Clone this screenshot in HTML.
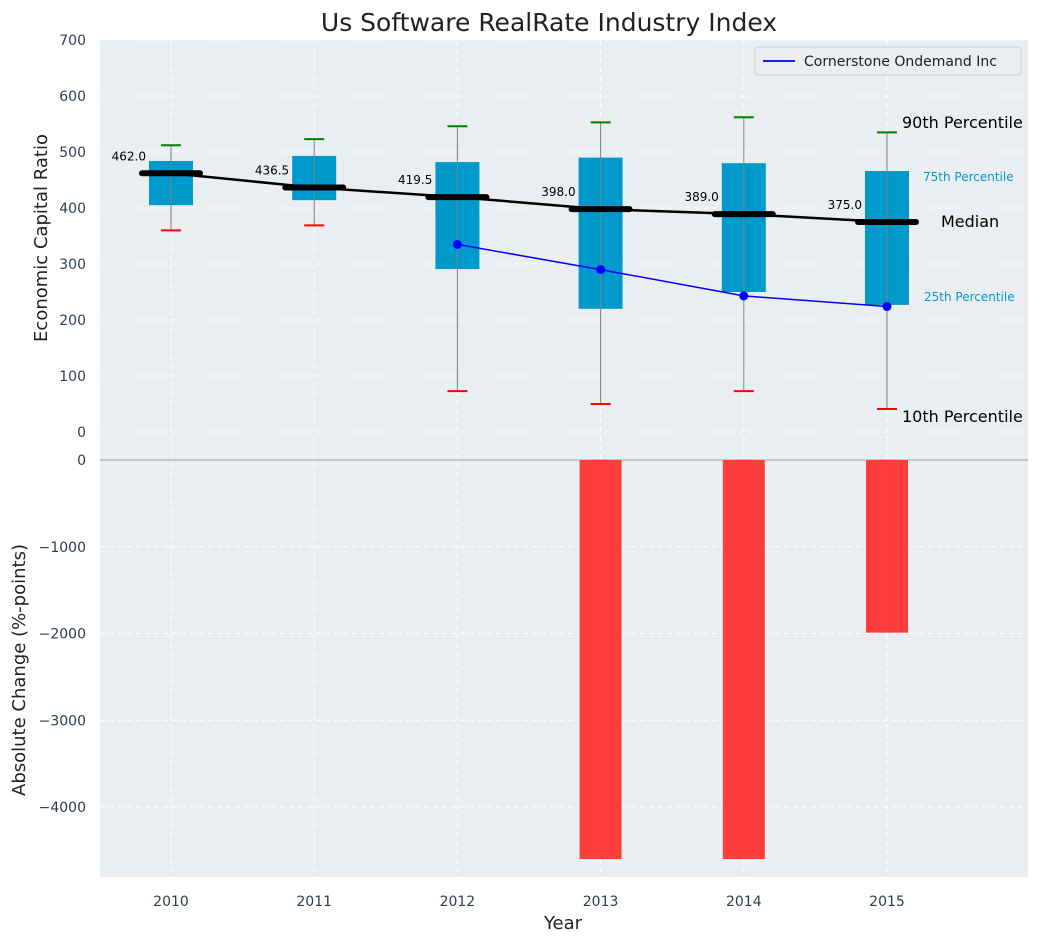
<!DOCTYPE html>
<html><head><meta charset="utf-8"><style>
body{margin:0;background:#fff;font-family:"Liberation Sans","DejaVu Sans",sans-serif;}
svg text{font-family:"DejaVu Sans","Liberation Sans",sans-serif;}
</style></head><body>
<svg id="c" width="1039" height="942" xmlns="http://www.w3.org/2000/svg"></svg>
<script>
const years=[2010,2011,2012,2013,2014,2015];
const q1=[405,414,291,220,250,227];
const q3=[484,493,482,490,480,466];
const med=[462,436.5,419.5,398,389,375];
const p10=[360,369,73,50,73,41];
const p90=[512,523,546,553,562,535];
const compYears=[2012,2013,2014,2015];
const compVals=[335,290,243,224];
const chgYears=[2013,2014,2015];
const chgVals=[-4600,-4600,-1990];
const topTicks=[0,100,200,300,400,500,600,700];
const botTicks=[0,-1000,-2000,-3000,-4000];

const NS="http://www.w3.org/2000/svg";
const svg=document.getElementById('c');
function el(t,a,txt){const e=document.createElementNS(NS,t);for(const k in a)e.setAttribute(k,a[k]);if(txt!==undefined)e.textContent=txt;svg.appendChild(e);return e;}
const X=v=>171+(v-2010)*143.2;
const Y1=v=>432-v*0.56;
const Yb=v=>460-v*0.08675;
const L=100,R=1028;

let e;
e=el('rect',{x:L,y:40,width:R-L,height:406,fill:'#eaeef0'});

e=el('rect',{x:L,y:446,width:R-L,height:431,fill:'#eaeef0'});

topTicks.forEach(t=>{el('line',{x1:L,x2:R,y1:Y1(t),y2:Y1(t),stroke:'#fff','stroke-dasharray':'5,4','stroke-width':1});
 e=el('text',{x:86,y:Y1(t)+5,'text-anchor':'end','font-size':14,fill:'#2b3e50'},t);
 });
botTicks.forEach(t=>{el('line',{x1:L,x2:R,y1:Yb(t),y2:Yb(t),stroke:'#fff','stroke-dasharray':'5,4','stroke-width':1});
 e=el('text',{x:86,y:Yb(t)+5,'text-anchor':'end','font-size':14,fill:'#2b3e50'},t===0?'0':'\u2212'+(-t));
 });
years.forEach(y=>{el('line',{x1:X(y),x2:X(y),y1:40,y2:877,stroke:'#fff','stroke-dasharray':'5,4','stroke-width':1});
 e=el('text',{x:X(y),y:906,'text-anchor':'middle','font-size':14,fill:'#2b3e50'},y);
 });
el('line',{x1:L,x2:R,y1:460,y2:460,stroke:'#b0b0b0','stroke-width':1.2});
chgYears.forEach((y,i)=>{e=el('rect',{x:X(y)-21,y:Yb(0),width:42,height:Yb(chgVals[i])-Yb(0),fill:'#ff3d3d'});
 });
years.forEach((y,i)=>{const x=X(y);
 e=el('rect',{x:x-22,y:Y1(q3[i]),width:44,height:Y1(q1[i])-Y1(q3[i]),fill:'#0099cc'});
 
 el('line',{x1:x,x2:x,y1:Y1(p90[i]),y2:Y1(p10[i]),stroke:'#808080','stroke-width':1});
 el('line',{x1:x-10,x2:x+10,y1:Y1(p90[i]),y2:Y1(p90[i]),stroke:'green','stroke-width':2});
 el('line',{x1:x-10,x2:x+10,y1:Y1(p10[i]),y2:Y1(p10[i]),stroke:'red','stroke-width':2});
});
e=el('polyline',{points:years.map((y,i)=>X(y)+','+Y1(med[i])).join(' '),fill:'none',stroke:'#000','stroke-width':2.5});

years.forEach((y,i)=>{const x=X(y);
 el('line',{x1:x-29,x2:x+29,y1:Y1(med[i]),y2:Y1(med[i]),stroke:'#000','stroke-width':6,'stroke-linecap':'round'});
 e=el('text',{x:x-25,y:Y1(med[i])-13,'text-anchor':'end','font-size':12,fill:'#000'},med[i].toFixed(1));
 });
e=el('polyline',{points:compYears.map((y,i)=>X(y)+','+Y1(compVals[i])).join(' '),fill:'none',stroke:'#0000ff','stroke-width':1.5});

compYears.forEach((y,i)=>el('circle',{cx:X(y),cy:Y1(compVals[i]),r:4.5,fill:'#0000ff'}));
const ann=[['90th Percentile',902,128,16,'#000'],['75th Percentile',923,181,12,'#0099cc'],['Median',941,227,16,'#000'],['25th Percentile',924,301,12,'#0099cc'],['10th Percentile',902,422,16,'#000']];
ann.forEach(a=>{e=el('text',{x:a[1],y:a[2],'font-size':a[3],fill:a[4]},a[0]);});
e=el('rect',{x:755,y:47,width:266,height:28,fill:'#eaeef0',stroke:'#ccc',rx:3});

el('line',{x1:763,x2:795,y1:61,y2:61,stroke:'#0000ff','stroke-width':1.8});
e=el('text',{x:804,y:66,'font-size':14,fill:'#222'},'Cornerstone Ondemand Inc');

e=el('text',{x:549,y:31,'text-anchor':'middle','font-size':25,fill:'#222'},'Us Software RealRate Industry Index');

e=el('text',{x:563,y:929,'text-anchor':'middle','font-size':18,fill:'#222'},'Year');

e=el('text',{x:0,y:0,'text-anchor':'middle','font-size':18,fill:'#222',transform:'translate(47,238) rotate(-90)'},'Economic Capital Ratio');

e=el('text',{x:0,y:0,'text-anchor':'middle','font-size':18,fill:'#222',transform:'translate(25,670) rotate(-90)'},'Absolute Change (%-points)');

</script>
</body></html>
